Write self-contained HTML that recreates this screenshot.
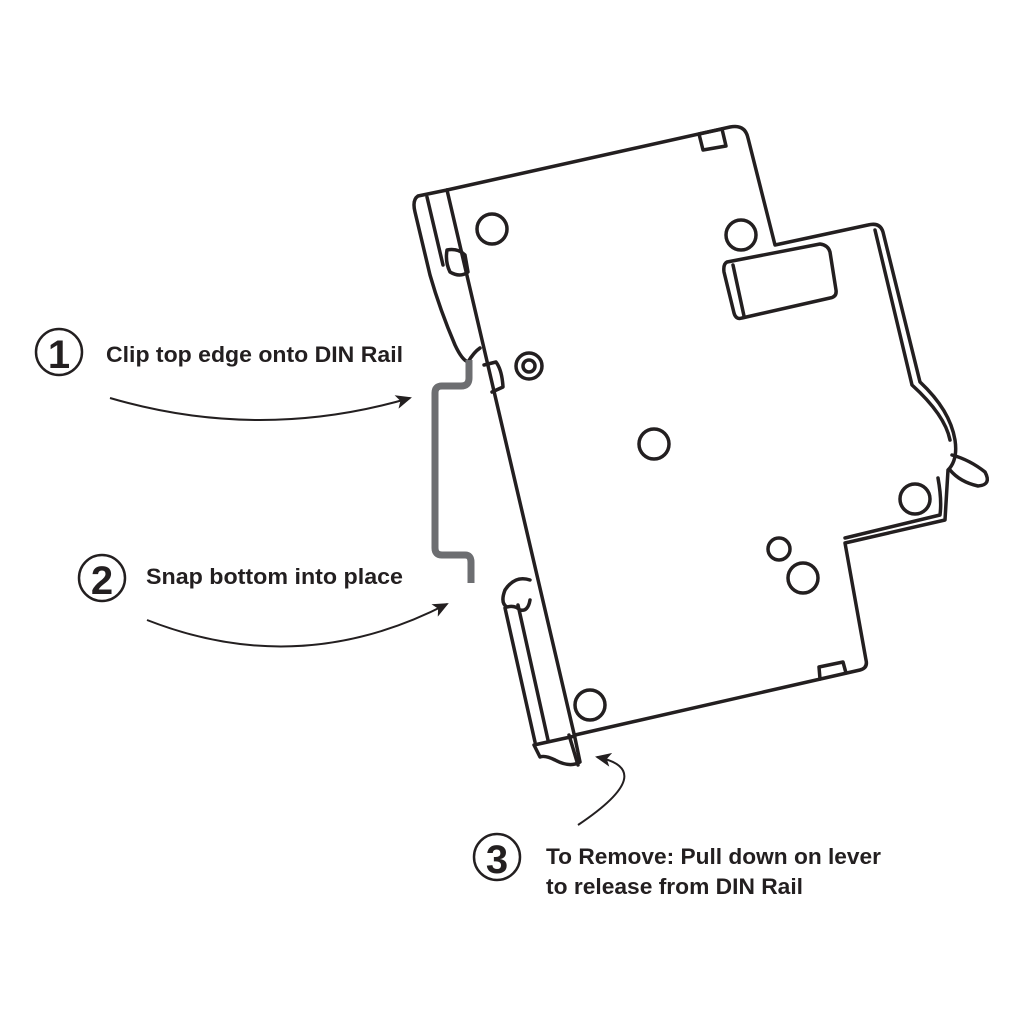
<!DOCTYPE html>
<html><head><style>
html,body{margin:0;padding:0;background:#fff;}
svg{display:block;}
text{font-family:"Liberation Sans",sans-serif;font-weight:bold;fill:#231f20;}
</style></head><body>
<svg width="1024" height="1024" viewBox="0 0 1024 1024" xmlns="http://www.w3.org/2000/svg">
<defs>
<marker id="ah" markerWidth="16" markerHeight="14" refX="14" refY="7" orient="auto" markerUnits="userSpaceOnUse">
<path d="M0,0 L16,7 L0,14 L4,7 Z" fill="#231f20"/>
</marker>
</defs>
<g fill="none" stroke="#231f20" stroke-width="3.5" stroke-linejoin="round" stroke-linecap="round">
<path d="M447,190 L730,127 Q745,124 748,138 L775,245 L868,225 Q880,222 883,232 L920,382 Q950,410 955,440 Q958,460 948,470 L945,520 L845,543 L866,660 Q868,668 860,670 L575,735"/>
<path d="M875,230 L912,385 Q945,415 950,440"/>
<path d="M938,478 Q942,500 940,515 L845,538"/>
<path d="M447,190 L575,738 L580,762 Q570,768 555,760 Q545,755 540,757 L534,745 L575,736"/>
<path d="M569,735 L578,765"/>
<!-- top clip -->
<path d="M447,190 L418,196 Q412,200 415,212 L430,275 Q440,310 455,345 Q462,360 468,362 Q474,352 480,348"/>
<path d="M427,197 L443,265"/>
<path d="M447,250 Q445,262 450,272 Q460,278 468,272 L465,255 Q458,248 447,250 Z"/>
<path d="M484,365 L496,362 Q502,370 503,387 L492,392"/>
<circle cx="529" cy="366" r="13"/><circle cx="529" cy="366" r="6"/>
<!-- bottom clip -->
<path d="M530,580 Q515,575 505,590 Q500,603 507,607 Q515,605 520,610 Q528,612 530,600"/>
<path d="M505,608 L535,742"/>
<path d="M518,605 L548,740"/>
<path d="M699,134 L722,129 L726,146 L703,150 Z"/>
<path d="M727,262 L820,244 Q828,245 830,252 L836,290 Q837,297 830,298 L742,318 Q736,320 734,313 L724,272 Q723,264 727,262 Z"/>
<path d="M733,265 L744,316"/>
<path d="M952,455 Q970,460 985,472 Q992,485 978,486 Q960,482 950,470"/>
<path d="M820,679 L819,667 L843,662 L846,673"/>
<circle cx="492" cy="229" r="15"/>
<circle cx="741" cy="235" r="15"/>
<circle cx="654" cy="444" r="15"/>
<circle cx="915" cy="499" r="15"/>
<circle cx="779" cy="549" r="11"/>
<circle cx="803" cy="578" r="15"/>
<circle cx="590" cy="705" r="15"/>
</g>
<path d="M469,360 L469,378 Q469,386 461,386 L442,386 Q435,386 435,393 L435,548 Q435,555 442,555 L465,555 Q471,555 471,562 L471,583" fill="none" stroke="#6d6e71" stroke-width="7"/>
<g fill="none" stroke="#231f20" stroke-width="2">
<path d="M110,398 Q260,442 410,398" marker-end="url(#ah)"/>
<path d="M147,620 Q300,680 447,604" marker-end="url(#ah)"/>
<path d="M578,825 Q660,770 597,757" marker-end="url(#ah)"/>
</g>
<g fill="none" stroke="#231f20" stroke-width="2.5">
<circle cx="59" cy="352" r="23"/>
<circle cx="102" cy="578" r="23"/>
<circle cx="497" cy="857" r="23"/>
</g>
<text x="59" y="368" font-size="40" text-anchor="middle">1</text>
<text x="102" y="594" font-size="40" text-anchor="middle">2</text>
<text x="497" y="873" font-size="40" text-anchor="middle">3</text>
<text x="106" y="362" font-size="22" textLength="297" lengthAdjust="spacingAndGlyphs">Clip top edge onto DIN Rail</text>
<text x="146" y="584" font-size="22" textLength="257" lengthAdjust="spacingAndGlyphs">Snap bottom into place</text>
<text x="546" y="864" font-size="22" textLength="335" lengthAdjust="spacingAndGlyphs">To Remove: Pull down on lever</text>
<text x="546" y="894" font-size="22" textLength="257" lengthAdjust="spacingAndGlyphs">to release from DIN Rail</text>
</svg>
</body></html>
